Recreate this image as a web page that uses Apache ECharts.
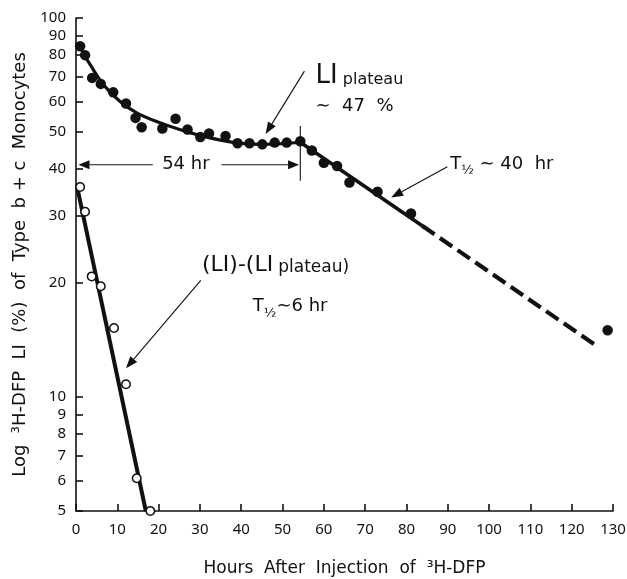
<!DOCTYPE html>
<html><head><meta charset="utf-8">
<script src="https://cdn.jsdelivr.net/npm/echarts@6/dist/echarts.min.js"></script>
<style>html,body{margin:0;padding:0;background:#fff}#c{width:627px;height:579px}</style>
</head><body><div id="c"></div>
<script>
// Filled circles: total labelling index (type b + c monocytes)
const filledHours = [1.0, 2.2, 3.9, 6.0, 9.0, 12.1, 14.4, 15.9, 20.9, 24.1, 27.0, 30.1, 32.2, 36.2, 39.1, 42.0, 45.1, 48.1, 51.0, 54.3, 57.1, 60.0, 63.2, 66.2, 73.0, 81.1, 128.7];
const filledLI    = [84.2, 79.8, 69.5, 67.0, 63.7, 59.5, 54.5, 51.5, 51.1, 54.2, 50.8, 48.5, 49.6, 48.8, 46.7, 46.7, 46.4, 46.9, 46.9, 47.3, 44.7, 41.5, 40.7, 36.8, 34.8, 30.5, 15.0];
// Open circles: (LI) - (LI plateau)
const openHours = [1.0, 2.2, 3.8, 6.0, 9.2, 12.1, 14.7, 18.0];
const openLI    = [35.8, 30.8, 20.8, 19.6, 15.2, 10.8, 6.1, 5.0];
// Fitted curve through the filled circles
const curveHours = [1.0, 2.2, 3.4, 6.6, 10.6, 14.7, 20.3, 25.1, 30, 35, 40, 45, 50, 54.3];
const curveLI    = [84, 79.3, 75.4, 66.8, 60.3, 56.2, 52.9, 50.8, 49.0, 47.6, 46.7, 46.4, 46.6, 47.0];
// T1/2 ~ 40 hr decline: solid part then dashed part
const decaySolidHours = [54.3, 83.8];
const decaySolidLI    = [47.0, 28.3];
const decayDashHours  = [83.8, 126.6];
const decayDashLI     = [28.3, 13.5];
// T1/2 ~ 6 hr fast component
const fastHours = [0.4, 16.9];
const fastLI    = [35.3, 5.0];
// Axis ticks
const xTicks = [0, 10, 20, 30, 40, 50, 60, 70, 80, 90, 100, 110, 120, 130];
const yTicks = [5, 6, 7, 8, 9, 10, 20, 30, 40, 50, 60, 70, 80, 90, 100];

const zip = (a, b) => a.map((v, i) => [v, b[i]]);
const FONT = 'DejaVu Sans';
const TICKFONT = 'Noto Sans';
const INK = '#111';

const chart = echarts.init(document.getElementById('c'), null, {renderer: 'canvas'});
const option = {
  animation: false,
  backgroundColor: '#fff',
  grid: {left: 76, right: 14, top: 18, bottom: 68, containLabel: false, outerBoundsMode: 'none'},
  xAxis: {
    type: 'value', min: 0, max: 130, interval: 10,
    name: 'Hours  After  Injection  of  \u00b3H-DFP', nameLocation: 'middle', nameGap: 49,
    nameTextStyle: {fontFamily: FONT, fontSize: 17, color: INK},
    axisLine: {show: true, onZero: false, lineStyle: {color: INK, width: 1.6}},
    axisTick: {show: true, inside: true, length: 7, lineStyle: {color: INK, width: 1.6}},
    axisLabel: {fontFamily: TICKFONT, fontSize: 15, color: INK, margin: 11, customValues: xTicks},
    splitLine: {show: false}
  },
  yAxis: {
    type: 'log', logBase: 10, min: 5, max: 100,
    name: 'Log  \u00b3H-DFP  LI  (%)  of  Type  b + c  Monocytes', nameLocation: 'middle', nameGap: 44,
    nameTextStyle: {fontFamily: FONT, fontSize: 18, color: INK},
    axisLine: {show: true, onZero: false, lineStyle: {color: INK, width: 1.6}},
    axisTick: {show: true, inside: true, length: 7, lineStyle: {color: INK, width: 1.6}, customValues: yTicks},
    axisLabel: {fontFamily: TICKFONT, fontSize: 15, color: INK, margin: 10, customValues: yTicks},
    splitLine: {show: false}, minorTick: {show: false}
  },
  series: [
    {type: 'line', data: zip(curveHours, curveLI), smooth: 0.4, showSymbol: false, symbol: 'none',
     lineStyle: {color: INK, width: 3.2}, z: 2},
    {type: 'line', data: zip(decaySolidHours, decaySolidLI), showSymbol: false, symbol: 'none',
     lineStyle: {color: INK, width: 3.6}, z: 2},
    {type: 'line', data: zip(decayDashHours, decayDashLI), showSymbol: false, symbol: 'none',
     lineStyle: {color: INK, width: 4.2, type: [15, 6.5]}, z: 2},
    {type: 'line', data: zip(fastHours, fastLI), showSymbol: false, symbol: 'none',
     lineStyle: {color: INK, width: 4}, z: 2},
    {type: 'scatter', data: zip(filledHours, filledLI), symbol: 'circle', symbolSize: 10.5,
     itemStyle: {color: INK, opacity: 1}, z: 3},
    {type: 'scatter', data: zip(openHours, openLI), symbol: 'circle', symbolSize: 8.5,
     itemStyle: {color: '#fff', borderColor: INK, borderWidth: 1.5, opacity: 1}, z: 4}
  ]
};
chart.setOption(option);

// ----- annotations, anchored in data coordinates -----
const P = (x, y) => chart.convertToPixel({gridIndex: 0}, [x, y]);
function arrow(from, to, w, head, headW) {
  const [x1, y1] = P(from[0], from[1]);
  const [x2, y2] = P(to[0], to[1]);
  const dx = x2 - x1, dy = y2 - y1, L = Math.hypot(dx, dy);
  const ux = dx / L, uy = dy / L;
  const bx = x2 - ux * head, by = y2 - uy * head;
  return [
    {type: 'line', shape: {x1, y1, x2: bx, y2: by}, style: {stroke: INK, lineWidth: w}, z: 10},
    {type: 'polygon', shape: {points: [[x2, y2], [bx - uy * headW, by + ux * headW], [bx + uy * headW, by - ux * headW]]},
     style: {fill: INK}, z: 10}
  ];
}
function seg(from, to, w) {
  const [x1, y1] = P(from[0], from[1]);
  const [x2, y2] = P(to[0], to[1]);
  return {type: 'line', shape: {x1, y1, x2, y2}, style: {stroke: INK, lineWidth: w}, z: 10};
}
function label(x, y, text, rich, size, align) {
  const [px, py] = P(x, y);
  return {type: 'text', x: px, y: py, z: 11,
    style: {text, rich: rich || undefined, fill: INK, fontFamily: FONT, fontSize: size || 16,
            align: align || 'left', verticalAlign: 'middle'}};
}
const R = (size, extra) => Object.assign({fontFamily: FONT, fontSize: size, fill: INK, verticalAlign: 'bottom'}, extra || {});

const g = [];
// 54 hr double arrow
g.push(...arrow([18.6, 41], [0.6, 41], 1.1, 11, 4.5));
g.push(...arrow([35.2, 41], [54.0, 41], 1.1, 11, 4.5));
g.push(label(26.6, 41, '54 hr', null, 18, 'center'));
g.push(seg([54.3, 51.9], [54.3, 37.2], 1.1));
// LI plateau ~47 %
g.push(...arrow([55.3, 72.4], [45.9, 49.4], 1.1, 12, 4.5));
g.push(label(58.0, 70.2, '{a|LI} {b|plateau}', {a: R(26), b: R(16, {padding: [0, 0, 1, 0]})}));
g.push(label(58.0, 58.5, '\u223c  47  %', null, 18));
// T1/2 ~ 40 hr
g.push(...arrow([89.9, 40.5], [76.3, 33.6], 1.1, 12, 4.5));
g.push(label(90.6, 41.2, '{t|T}{f|\u00bd}{r| \u223c 40  hr}', {
  t: R(18), f: R(13, {padding: [0, 0, -4, 0]}), r: R(18)}));
// (LI)-(LI plateau), T1/2 ~ 6 hr
g.push(...arrow([30.2, 20.3], [12.1, 11.9], 1.1, 12, 4.5));
g.push(label(30.5, 22.2, '{a|(LI)-(LI} {b|plateau)}', {a: R(22), b: R(17, {padding: [0, 0, 1, 0]})}));
g.push(label(42.8, 17.3, '{t|T}{f|\u00bd}{r|\u223c6 hr}', {
  t: R(18), f: R(13, {padding: [0, 0, -4, 0]}), r: R(18)}));

chart.setOption({graphic: {elements: g}});
</script>
</body></html>
